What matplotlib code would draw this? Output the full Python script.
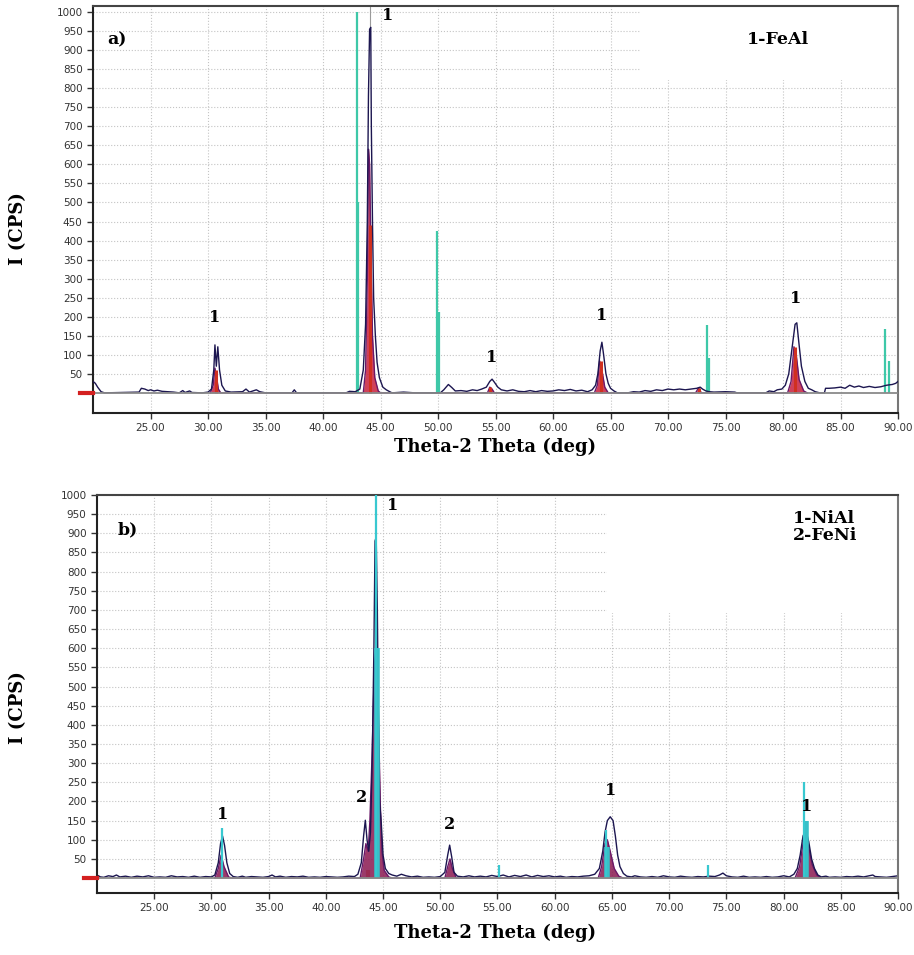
# xrd_patterns.py
# Two XRD scans (FeAl / NiAl + FeNi) plotted the way the diffractometer software shows them.

import matplotlib.pyplot as plt
from matplotlib.patches import Rectangle

# ---- a) FeAl ------------------------------------------------------------
a_meas_x = [20.0, 20.2, 20.4, 20.7, 21.0, 24.0, 24.2, 24.5, 24.8, 25.0, 25.3, 25.6, 26.0, 26.5,
            27.0, 27.5, 27.8, 28.0, 28.4, 28.6, 29.5, 30.0, 30.3, 30.5, 30.6, 30.72, 30.85,
            31.0, 31.2, 31.5, 32.0, 33.0, 33.3, 33.6, 34.2, 34.5, 35.0, 37.3, 37.5, 37.7,
            42.0, 42.3, 42.8, 43.2, 43.5, 43.7, 43.85, 43.95, 44.05, 44.15, 44.2, 44.3, 44.4,
            44.55, 44.7, 44.9, 45.2, 45.5, 45.8, 46.0, 47.0, 48.0, 50.2, 50.5, 50.9, 51.2,
            51.5, 52.0, 52.5, 53.0, 53.4, 53.8, 54.2, 54.5, 54.7, 54.9, 55.2, 55.5, 56.0,
            56.5, 57.0, 57.5, 58.0, 58.5, 59.0, 59.5, 60.0, 60.5, 61.0, 61.5, 62.0, 62.5,
            63.0, 63.4, 63.7, 63.9, 64.1, 64.25, 64.4, 64.6, 64.8, 65.0, 65.3, 65.6, 66.5,
            67.0, 67.5, 68.0, 68.5, 69.0, 69.5, 70.0, 70.5, 71.0, 71.5, 72.0, 72.5, 72.8,
            73.0, 73.3, 73.6, 74.0, 75.0, 75.8, 76.0, 78.5, 78.8, 79.2, 79.5, 79.9, 80.2,
            80.5, 80.8, 81.05, 81.2, 81.35, 81.6, 81.9, 82.2, 82.5, 82.8, 83.2, 83.6, 83.7,
            84.0, 84.5, 85.0, 85.4, 85.8, 86.2, 86.6, 87.0, 87.5, 88.0, 88.5, 89.0, 89.5,
            89.8, 90.0]
a_meas_y = [30, 25, 15, 3, 0, 2, 12, 10, 6, 8, 5, 7, 4, 3,
            2, 0, 6, 1, 5, 1, 0, 2, 10, 60, 126, 70, 121,
            60, 20, 5, 2, 3, 10, 2, 8, 3, 0, 0, 8, 0,
            0, 4, 3, 10, 60, 180, 450, 780, 955, 960, 700, 450, 250,
            150, 80, 40, 15, 8, 3, 0, 2, 0, 0, 8, 22, 14,
            5, 6, 4, 8, 6, 10, 15, 30, 36, 28, 15, 8, 5,
            8, 4, 3, 6, 3, 6, 4, 5, 8, 6, 9, 5, 7,
            3, 8, 20, 50, 110, 133, 100, 50, 25, 12, 5, 0, 0,
            3, 2, 6, 4, 8, 6, 10, 8, 10, 8, 10, 12, 15,
            10, 5, 3, 2, 3, 2, 0, 0, 5, 3, 8, 10, 20,
            50, 120, 180, 184, 140, 70, 30, 12, 8, 3, 0, 0, 12,
            12, 13, 15, 12, 20, 15, 18, 14, 17, 14, 16, 20, 22,
            25, 30]

a_fit_x = [30.2, 30.45, 30.6, 30.75, 30.9, 31.1, 43.5, 43.7, 43.85, 43.95, 44.05, 44.15, 44.3,
           44.5, 44.8, 45.0, 54.3, 54.5, 54.7, 54.9, 63.6, 63.85, 64.05, 64.25, 64.5, 64.8,
           72.4, 72.65, 72.9, 80.4, 80.7, 80.95, 81.15, 81.4, 81.8, 82.1]
a_fit_y = [0, 20, 65, 40, 10, 0, 0, 60, 300, 640, 600, 400, 150,
           40, 5, 0, 0, 15, 10, 0, 0, 20, 84, 60, 15, 0,
           0, 13, 0, 0, 30, 121, 100, 35, 5, 0]

a_red_x = [30.65, 44.1, 54.5, 64.15, 72.7, 81.05]
a_red_h = [60, 440, 15, 84, 13, 121]

a_ref_x = [42.95, 43.02, 49.93, 50.09, 73.35, 73.58, 88.9, 89.2]
a_ref_h = [1000, 501, 425, 212, 178, 92, 168, 84]

a_peak_x = [30.6, 45.65, 54.7, 64.2, 81.1]
a_peak_y = [175, 968, 70, 180, 225]
a_peak_txt = ['1', '1', '1', '1', '1']

# ---- b) NiAl + FeNi -----------------------------------------------------
b_meas_x = [20.0, 20.3, 20.6, 21.0, 21.4, 21.7, 22.0, 22.5, 23.0, 23.5, 24.0, 24.5, 25.0, 25.5,
            26.0, 26.5, 27.0, 27.5, 28.0, 28.5, 29.0, 29.5, 30.0, 30.3, 30.6, 30.8, 30.97,
            31.15, 31.35, 31.6, 31.9, 32.3, 32.7, 33.0, 33.5, 34.0, 34.5, 35.0, 35.3, 35.6,
            36.0, 36.5, 37.0, 37.5, 38.0, 38.5, 39.0, 39.5, 40.0, 40.5, 41.0, 41.5, 42.0,
            42.5, 42.8, 43.1, 43.3, 43.45, 43.6, 43.75, 43.9, 44.05, 44.2, 44.3, 44.4, 44.5,
            44.6, 44.7, 44.85, 45.0, 45.2, 45.5, 45.8, 46.2, 46.6, 47.0, 47.5, 48.0, 48.5,
            49.0, 49.5, 50.0, 50.4, 50.65, 50.82, 51.0, 51.2, 51.5, 52.0, 52.5, 53.0, 53.5,
            54.0, 54.5, 55.0, 55.5, 56.0, 56.5, 57.0, 57.5, 58.0, 58.5, 59.0, 59.5, 60.0,
            60.5, 61.0, 61.5, 62.0, 62.5, 63.0, 63.5, 63.9, 64.2, 64.4, 64.6, 64.85, 65.1,
            65.3, 65.5, 65.7, 66.0, 66.3, 66.7, 67.0, 67.5, 68.0, 68.5, 69.0, 69.5, 70.0,
            70.5, 71.0, 71.5, 72.0, 72.5, 73.0, 73.5, 74.0, 74.4, 74.7, 75.0, 75.5, 76.0,
            76.5, 77.0, 77.5, 78.0, 78.5, 79.0, 79.5, 80.0, 80.5, 80.9, 81.2, 81.45, 81.7,
            81.95, 82.2, 82.45, 82.7, 83.0, 83.3, 83.7, 84.0, 84.5, 85.0, 85.5, 86.0, 86.5,
            87.0, 87.5, 87.8, 88.0, 88.5, 89.0, 89.5, 90.0]
b_meas_y = [8, 3, 2, 6, 4, 8, 3, 5, 2, 5, 3, 6, 2, 3,
            2, 6, 3, 4, 2, 5, 2, 4, 3, 8, 40, 90, 110,
            85, 40, 12, 4, 2, 5, 2, 4, 3, 2, 4, 8, 3,
            5, 2, 4, 3, 5, 2, 3, 2, 4, 3, 2, 3, 5,
            4, 10, 40, 110, 151, 100, 70, 120, 300, 600, 880, 890, 700,
            400, 200, 140, 60, 25, 12, 8, 5, 10, 6, 3, 5, 2,
            3, 2, 4, 15, 60, 86, 55, 15, 5, 3, 6, 3, 5,
            3, 7, 4, 8, 3, 7, 4, 8, 3, 7, 4, 6, 3,
            5, 2, 4, 3, 5, 6, 10, 25, 70, 120, 150, 160, 150,
            110, 60, 30, 12, 5, 3, 6, 3, 2, 4, 2, 6, 3,
            2, 5, 3, 2, 4, 3, 5, 4, 8, 13, 6, 3, 2,
            5, 2, 3, 2, 4, 2, 3, 6, 3, 10, 25, 60, 110,
            125, 95, 50, 25, 8, 3, 5, 2, 3, 2, 4, 3, 5,
            3, 6, 8, 4, 3, 2, 4, 6]

b_fit_x = [30.3, 30.6, 30.85, 31.1, 31.5, 31.8, 43.0, 43.3, 43.5, 43.7, 43.85, 44.05, 44.25,
           44.45, 44.6, 44.75, 44.9, 45.1, 45.5, 45.8, 50.4, 50.65, 50.85, 51.05, 51.4,
           63.8, 64.1, 64.4, 64.6, 64.85, 65.2, 65.6, 66.0, 81.0, 81.4, 81.75, 81.95, 82.2,
           82.5, 82.9, 83.3]
b_fit_y = [0, 25, 60, 30, 3, 0, 0, 50, 90, 70, 150, 330, 560,
           613, 420, 200, 70, 20, 3, 0, 0, 30, 50, 25, 0,
           0, 30, 90, 100, 70, 25, 5, 0, 0, 30, 100, 110, 80,
           35, 8, 0]

b_ref_x = [30.95, 44.4, 55.1, 64.45, 73.4, 81.8]
b_ref_h = [130, 1000, 35, 125, 35, 252]
b_bar_x = [44.5, 64.6, 81.95]
b_bar_h = [600, 82, 150]

b_tick_x = [23.4, 27.0, 33.9, 37.4, 40.8, 43.7, 47.8, 52.3, 57.0, 61.6, 68.5, 72.2, 75.5, 76.2]
b_tick_h = [4, 4, 4, 4, 4, 20, 4, 4, 4, 4, 4, 4, 4, 4]

b_peak_x = [31.0, 43.15, 45.8, 50.8, 64.9, 82.0]
b_peak_y = [143, 189, 950, 117, 206, 164]
b_peak_txt = ['1', '2', '1', '2', '1', '1']

x_ticks = [25, 30, 35, 40, 45, 50, 55, 60, 65, 70, 75, 80, 85, 90]
y_ticks = list(range(50, 1001, 50))

NAVY = '#1c1650'
PURPLE = '#6a1868'
RED = '#c8203c'
SERIF = 'DejaVu Serif'


def style_axes(ax, ylim):
    ax.set_xlim(20, 90)
    ax.set_ylim(*ylim)
    ax.set_xticks(x_ticks)
    ax.set_xticklabels(['%.2f' % t for t in x_ticks])
    ax.set_yticks(y_ticks)
    ax.tick_params(labelsize=7.5, labelcolor='#333333', length=4, width=1, color='#333333')
    ax.set_axisbelow(True)
    ax.grid(True, linestyle=':', color='#c4c4c4', linewidth=0.8)
    for side in ['left', 'bottom']:
        ax.spines[side].set_linewidth(1.5)
        ax.spines[side].set_color('#222222')
    ax.spines['top'].set_color('#444444')
    ax.spines['top'].set_linewidth(1.5)
    ax.spines['right'].set_color('#777777')
    ax.spines['right'].set_linewidth(1.5)
    # zero line and the red zero marker left of the axis
    ax.axhline(0, color='#8a8a8a', linewidth=1.3, zorder=4)
    ax.plot([18.86, 20.0], [0, 0], color='#d42020', linewidth=3, clip_on=False, zorder=5)


fig = plt.figure(figsize=(9.14, 9.55), dpi=100)

# 1. panel a)
ax1 = fig.add_axes([0.1018, 0.5675, 0.8807, 0.4262])
style_axes(ax1, (-53, 1016))
ax1.add_patch(Rectangle((67.6, 821), 22.4, 200, facecolor='white', edgecolor='none', zorder=0.8))
ax1.vlines(a_ref_x, 0, a_ref_h, color='#3ec8a8', linewidth=1.6, zorder=2)
ax1.fill_between(a_fit_x, a_fit_y, color=RED, alpha=0.85, linewidth=0, zorder=2.5)
ax1.plot(a_fit_x, a_fit_y, color=PURPLE, linewidth=1.0, zorder=2.6)
ax1.vlines(a_red_x, 0, a_red_h, color='#d03020', linewidth=2.2, zorder=2.7)
ax1.vlines([44.1], 960, 1016, color='#9a9a9a', linewidth=0.8, zorder=2)
ax1.plot(a_meas_x, a_meas_y, color=NAVY, linewidth=1.0, zorder=3)
for x, y, t in zip(a_peak_x, a_peak_y, a_peak_txt):
    ax1.text(x, y, t, fontsize=11.5, fontweight='bold', family=SERIF, ha='center', va='bottom')
ax1.text(21.2, 928, 'a)', fontsize=12.5, fontweight='bold', family=SERIF, va='center')
ax1.text(79.6, 927, '1-FeAl', fontsize=12.5, fontweight='bold', family=SERIF,
         ha='center', va='center', zorder=6)

# 2. panel b)
ax2 = fig.add_axes([0.1061, 0.0649, 0.8764, 0.4168])
style_axes(ax2, (-39, 1000))
ax2.add_patch(Rectangle((64.6, 692), 25.4, 310, facecolor='white', edgecolor='none', zorder=0.8))
ax2.vlines(b_tick_x, 0, b_tick_h, color='#e8a060', linewidth=3, zorder=2)
ax2.fill_between(b_fit_x, b_fit_y, color='#8a1850', alpha=0.85, linewidth=0, zorder=2.2)
ax2.plot(b_fit_x, b_fit_y, color=PURPLE, linewidth=1.0, zorder=2.3)
ax2.plot(b_meas_x, b_meas_y, color=NAVY, linewidth=1.0, zorder=2.5)
ax2.vlines(b_bar_x, 0, b_bar_h, color='#38c0c8', linewidth=4, zorder=2.8)
ax2.vlines(b_ref_x, 0, b_ref_h, color='#38c8d0', linewidth=1.6, zorder=2.9)
for x, y, t in zip(b_peak_x, b_peak_y, b_peak_txt):
    ax2.text(x, y, t, fontsize=11.5, fontweight='bold', family=SERIF, ha='center', va='bottom')
ax2.text(21.8, 908, 'b)', fontsize=12.5, fontweight='bold', family=SERIF, va='center')
ax2.text(80.8, 916, '1-NiAl\n2-FeNi', fontsize=12.5, fontweight='bold', family=SERIF,
         va='center', linespacing=1.05, zorder=6)

# 3. axis titles
for y in [0.523, 0.014]:
    fig.text(0.542, y, 'Theta-2 Theta (deg)', fontsize=13, fontweight='bold', family=SERIF,
             ha='center', va='bottom')
fig.text(0.02, 0.761, 'I (CPS)', fontsize=13, fontweight='bold', family=SERIF,
         rotation=90, ha='center', va='center')
fig.text(0.02, 0.259, 'I (CPS)', fontsize=13, fontweight='bold', family=SERIF,
         rotation=90, ha='center', va='center')

fig.savefig('out.png', dpi=100)
